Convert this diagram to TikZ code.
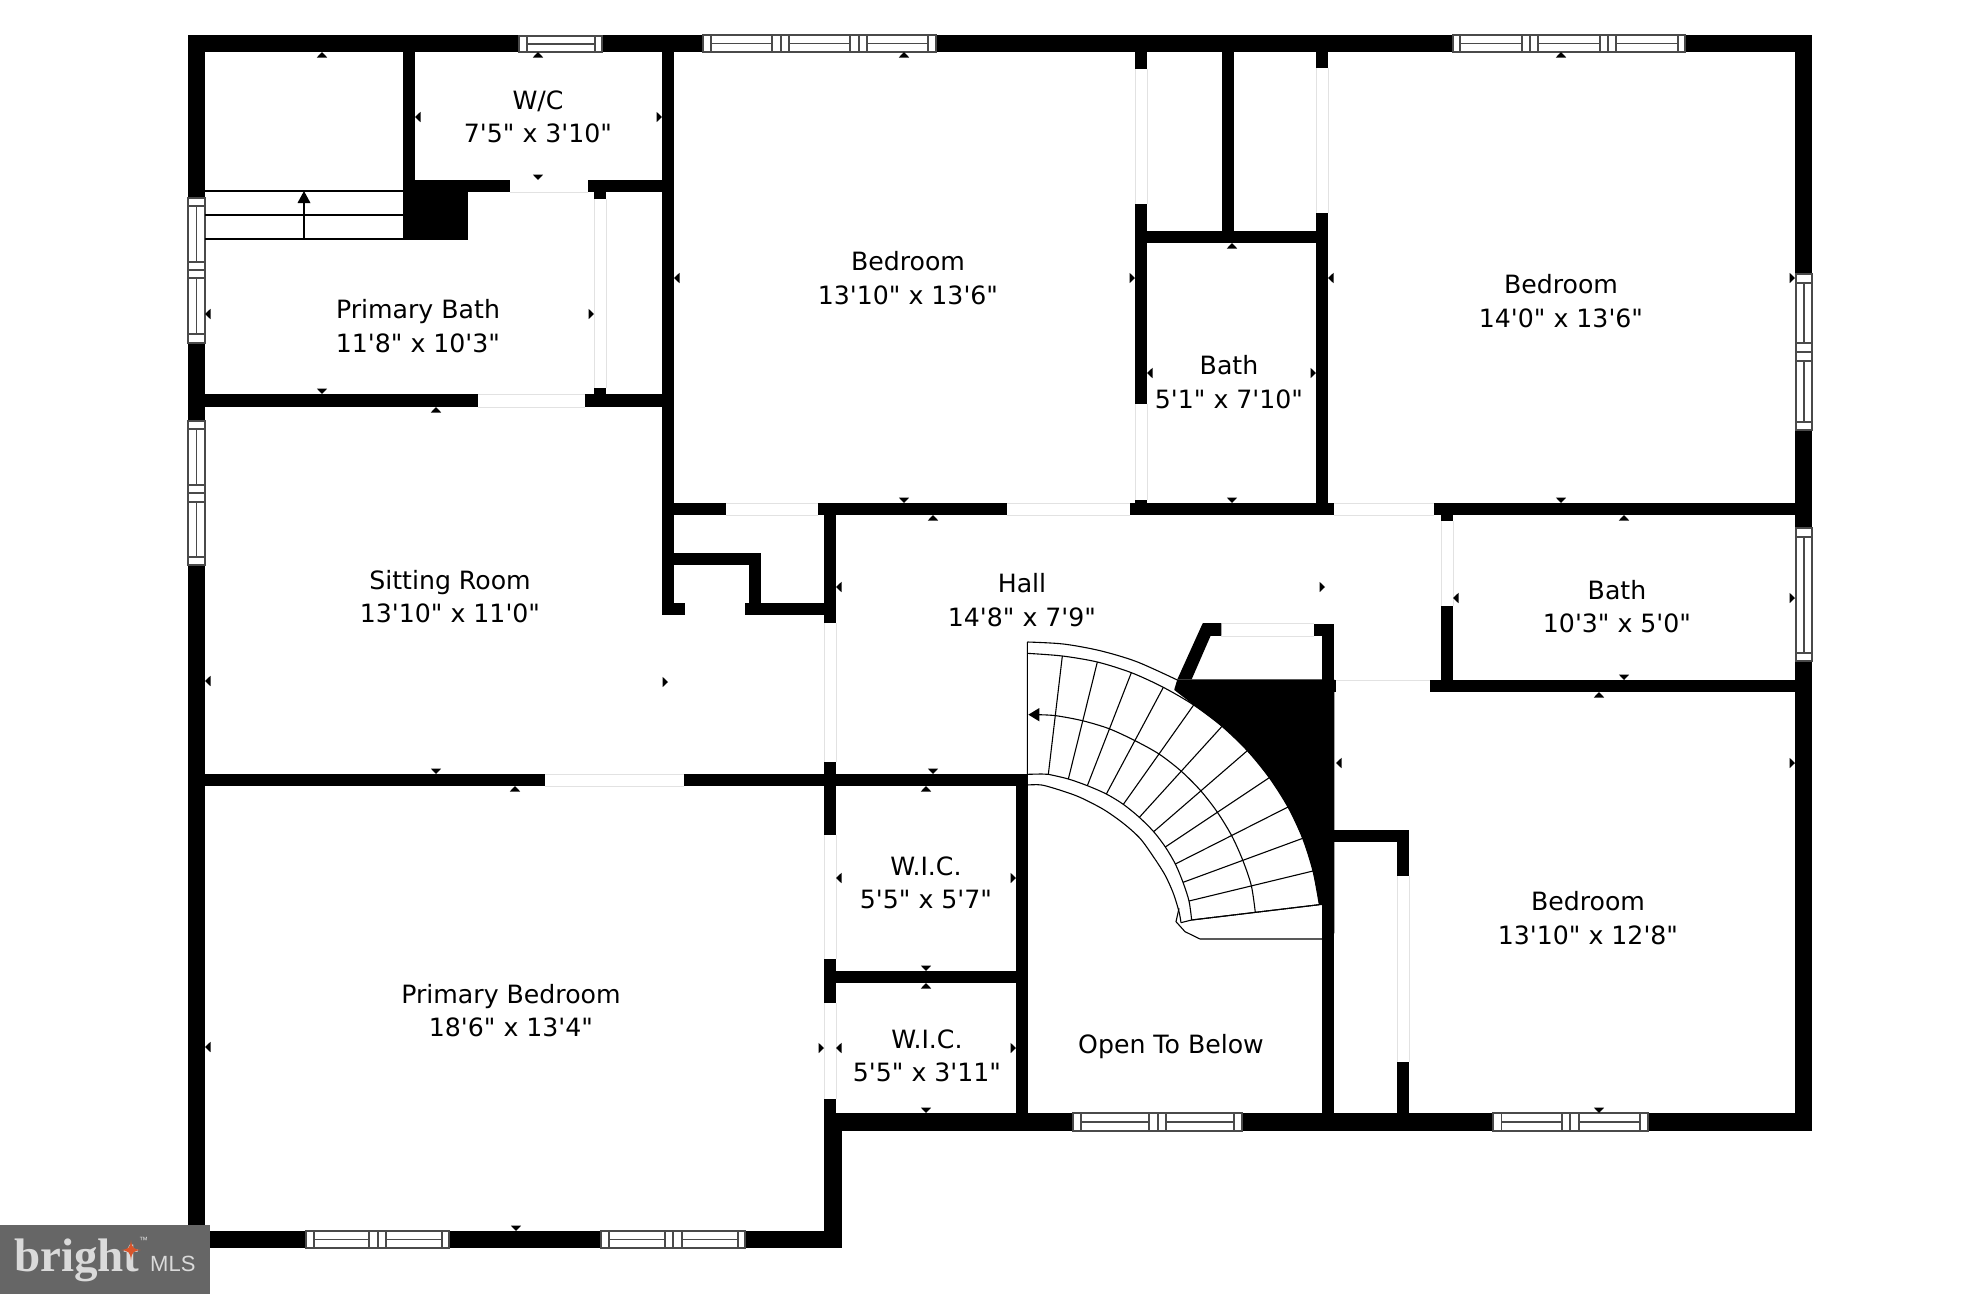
\documentclass[tikz,border=0pt]{standalone}
\usepackage{fontspec}
\newfontfamily\planfont{DejaVu Sans}
\newfontfamily\logoserif{Liberation Serif}
\newfontfamily\logosans{Liberation Sans}
\definecolor{doorgray}{HTML}{E2E2E2}
\definecolor{winink}{HTML}{4A4A4A}
\definecolor{logobg}{HTML}{666666}
\definecolor{logotext}{HTML}{DADADA}
\definecolor{logostar}{HTML}{D9552B}
\tikzset{
  roomlabel/.style={inner sep=0pt,align=center,text=black,font=\planfont\fontsize{25.2}{33.3}\selectfont},
  wallfill/.style={fill=black},
  doorline/.style={draw=doorgray,line width=1pt},
  winframe/.style={draw=winink,line width=1.1pt,fill=white},
  winmid/.style={draw=winink,line width=1.1pt},
  stairline/.style={draw=black,line width=1.1pt},
}
\newcommand\wallR[4]{\fill[wallfill] (#1,#2) rectangle (#3,#4);}
\newcommand\doorH[3]{\draw[doorline] (#1,#3) -- (#2,#3);}
\newcommand\doorV[3]{\draw[doorline] (#3,#1) -- (#3,#2);}
\newcommand\tickU[2]{\fill (#1,#2) -- ++(-5.2,5.5) -- ++(10.4,0) -- cycle;}
\newcommand\tickD[2]{\fill (#1,#2) -- ++(-5.2,-5.5) -- ++(10.4,0) -- cycle;}
\newcommand\tickL[2]{\fill (#1,#2) -- ++(5.5,-5.2) -- ++(0,10.4) -- cycle;}
\newcommand\tickR[2]{\fill (#1,#2) -- ++(-5.5,-5.2) -- ++(0,10.4) -- cycle;}
% horizontal window: y1 y2 x1 x2 panels
\newcommand\hwin[5]{%
  \draw[winframe] (#3,#1) rectangle (#4,#2);
  \foreach \a/\b in {#5} {
    \draw[winmid] (\a,#1) -- (\a,#2) (\b,#1) -- (\b,#2);
    \draw[winmid] (\a,{(#1+#2)/2}) -- (\b,{(#1+#2)/2});
  }}
\newcommand\hsep[3]{\draw[winmid] (#3,#1) -- (#3,#2);}
% vertical window: x1 x2 y1 y2 panels
\newcommand\vwin[5]{%
  \draw[winframe] (#1,#3) rectangle (#2,#4);
  \foreach \a/\b in {#5} {
    \draw[winmid] (#1,\a) -- (#2,\a) (#1,\b) -- (#2,\b);
    \draw[winmid] ({(#1+#2)/2},\a) -- ({(#1+#2)/2},\b);
  }}
\newcommand\vsep[3]{\draw[winmid] (#1,#3) -- (#2,#3);}
\begin{document}
\begin{tikzpicture}[x=1pt,y=-1pt]
\useasboundingbox (0,0) rectangle (1982,1294);
\fill[white] (0,0) rectangle (1982,1294);

% --- door openings ---
\doorH{510}{588}{192}
\doorV{199}{388}{594} \doorV{199}{388}{606}
\doorH{478}{585}{394} \doorH{478}{585}{407}
\doorH{726}{818}{503} \doorH{726}{818}{515}
\doorH{1007}{1130}{503} \doorH{1007}{1130}{515}
\doorH{1334}{1434}{503} \doorH{1334}{1434}{515}
\doorV{69}{204}{1135} \doorV{69}{204}{1147}
\doorV{404}{500}{1135} \doorV{404}{500}{1147}
\doorV{68}{213}{1316} \doorV{68}{213}{1328}
\doorH{545}{684}{774} \doorH{545}{684}{786}
\doorV{623}{762}{824} \doorV{623}{762}{836}
\doorV{835}{959}{824} \doorV{835}{959}{836}
\doorV{1003}{1099}{824} \doorV{1003}{1099}{836}
\doorH{1221}{1314}{623} \doorH{1221}{1314}{636}
\doorV{521}{606}{1441} \doorV{521}{606}{1453}
\doorH{1335}{1430}{680}
\doorV{876}{1062}{1397} \doorV{876}{1062}{1409}

% --- walls ---
\wallR{188}{35}{1812}{52}
\wallR{188}{35}{205}{1248}
\wallR{1795}{35}{1812}{1131}
\wallR{188}{1231}{842}{1248}
\wallR{824}{1113}{842}{1248}
\wallR{824}{1113}{1812}{1131}
\wallR{662}{35}{674}{615}
\wallR{403}{52}{415}{180}
\wallR{403}{180}{510}{192}
\wallR{403}{180}{468}{240}
\wallR{588}{180}{662}{192}
\wallR{594}{192}{606}{199}
\wallR{594}{388}{606}{394}
\wallR{205}{394}{478}{407}
\wallR{585}{394}{662}{407}
\wallR{674}{503}{726}{515}
\wallR{818}{503}{1007}{515}
\wallR{1130}{503}{1334}{515}
\wallR{1434}{503}{1795}{515}
\wallR{662}{603}{685}{615}
\wallR{674}{553}{761}{565}
\wallR{749}{553}{761}{615}
\wallR{745}{603}{836}{615}
\wallR{824}{503}{836}{623}
\wallR{205}{774}{545}{786}
\wallR{684}{774}{1028}{786}
\wallR{824}{762}{836}{835}
\wallR{824}{959}{836}{1003}
\wallR{836}{971}{1016}{983}
\wallR{824}{1099}{836}{1113}
\wallR{1016}{786}{1028}{1113}
\wallR{1135}{52}{1147}{69}
\wallR{1135}{204}{1147}{404}
\wallR{1135}{500}{1147}{503}
\wallR{1316}{52}{1328}{68}
\wallR{1316}{213}{1328}{503}
\wallR{1222}{52}{1234}{231}
\wallR{1135}{231}{1328}{243}
\wallR{1441}{515}{1453}{521}
\wallR{1441}{606}{1453}{680}
\wallR{1430}{680}{1795}{692}
\wallR{1203}{623}{1221}{636}
\wallR{1314}{624}{1334}{636}
\wallR{1322}{624}{1334}{1113}
\wallR{1334}{680}{1336}{692}
\wallR{1334}{830}{1409}{842}
\wallR{1397}{830}{1409}{876}
\wallR{1397}{1062}{1409}{1113}

% --- windows ---
\hwin{36}{52}{519}{602}{527/595}
\hwin{35}{52}{703}{936}{711/772,789/850,867/928}
\hsep{35}{52}{781} \hsep{35}{52}{859}
\hwin{35}{52}{1453}{1685}{1460/1522,1538/1600,1616/1678}
\hsep{35}{52}{1530} \hsep{35}{52}{1608}
\vwin{188}{205}{198}{343}{206/262,278/334}
\vsep{188}{205}{270}
\vwin{188}{205}{421}{565}{429/485,502/557}
\vsep{188}{205}{493}
\vwin{1796}{1812}{274}{430}{283/343,361/422}
\vsep{1796}{1812}{352}
\vwin{1796}{1812}{528}{661}{537/653}
\hwin{1231}{1248}{306}{449}{314/369,386/442}
\hsep{1231}{1248}{378}
\hwin{1231}{1248}{601}{745}{609/665,682/738}
\hsep{1231}{1248}{673}
\hwin{1113}{1131}{1073}{1242}{1081/1149,1166/1234}
\hsep{1113}{1131}{1158}
\hwin{1113}{1131}{1493}{1648}{1501.5/1562,1579/1640}
\hsep{1113}{1131}{1570}

% --- straight stair (primary bath) ---
\draw[stairline] (205,191) -- (403,191) (205,215) -- (403,215) (205,239) -- (403,239);
\draw[stairline] (304,239) -- (304,200);
\fill (304,191) -- (297.5,203) -- (310.5,203) -- cycle;

% --- curved stair ---
\begin{scope}[shift={(980,600)},x=0.33333pt,y=-0.33333pt]
  \fill (592,238) -- (635,238) -- (1063,238) -- (1063,1000) -- (1028,1000) -- (1028,914) -- (1018,914)
    -- plot[smooth] coordinates {(1018,914) (999,813) (968,715) (924,621) (868,533) (802,452) (726,379) (641,315) (583,270)}
    -- (583,268) -- cycle;
  \fill (668,70) -- (724,70) -- (724,107) -- (692,107) -- (635,238) -- (592,238) -- cycle;
  \draw[stairline] (142,555) -- (142,126)
     plot[smooth] coordinates {(142,126) (250,132) (360,152) (470,185) (592,240)};
  \draw[stairline] plot[smooth] coordinates {(142,160) (247,168) (352,186) (454,218) (550,262) (641,315) (726,379) (802,452) (868,533) (924,621) (968,715) (999,813) (1018,914)};
  \draw[stairline] plot[smooth] coordinates {(142,523) (185,522) (205,523) (265,537) (322,557) (379,582) (430,613) (478,652) (521,695) (556,741) (586,792) (609,847) (627,903) (635,960)};
  \draw[stairline] plot[smooth] coordinates {(142,555) (185,555) (245,572) (300,592) (370,628) (430,670) (480,715) (520,770) (555,825) (580,880) (597,935) (603,968)};
  \draw[stairline] (603,968) -- (635,960) -- (1018,914) -- (1028,914);
  \draw[stairline] (597,925) -- (588,965) -- (615,995) -- (660,1017) -- (1028,1017);
  \foreach \a/\b/\c/\d in {205/523/247/168,265/537/352/186,322/557/454/218,379/582/550/262,430/613/641/315,478/652/726/379,521/695/802/452,556/741/868/533,586/792/924/621,609/847/968/715,627/903/999/813,635/960/1018/914}
    \draw[stairline] (\a,\b) -- (\c,\d);
  \draw[stairline] plot[smooth] coordinates {(170,344) (227,347) (307,362) (387,386) (465,422) (537,462) (603,513) (661,571) (711,635) (755,707) (788,780) (814,857) (826,938)};
  \fill (145,344) -- (178,324) -- (178,364) -- cycle;
\end{scope}

% --- measurement ticks ---
\tickU{322}{52} \tickU{538}{52} \tickL{415}{117} \tickR{662}{117} \tickD{538}{180}
\tickL{205}{314} \tickR{594}{314} \tickD{322}{394}
\tickU{904}{52} \tickL{674}{278} \tickR{1135}{278} \tickD{904}{503}
\tickU{1232}{243} \tickL{1147}{373} \tickR{1316}{373} \tickD{1232}{503}
\tickU{1561}{52} \tickL{1328}{278} \tickR{1795}{278} \tickD{1561}{503}
\tickU{436}{407} \tickL{205}{681} \tickR{668}{682} \tickD{436}{774}
\tickU{933}{515} \tickL{836}{587} \tickR{1325}{587} \tickD{933}{774}
\tickU{1624}{515} \tickL{1453}{598} \tickR{1795}{598} \tickD{1624}{680}
\tickU{1599}{692} \tickL{1336}{763} \tickR{1795}{763} \tickD{1599}{1113}
\tickU{515}{786} \tickL{205}{1047} \tickR{824}{1048} \tickD{516}{1231}
\tickU{926}{786} \tickL{836}{878} \tickR{1016}{878} \tickD{926}{971}
\tickU{926}{983} \tickL{836}{1048} \tickR{1016}{1048} \tickD{926}{1113}

% --- room labels ---
\node[roomlabel] (wc) at (538,117) {W/C\\7'5" x 3'10"};
\node[roomlabel] (pbath) at (418,326) {Primary Bath\\11'8" x 10'3"};
\node[roomlabel] (bed1) at (908,278) {Bedroom\\13'10" x 13'6"};
\node[roomlabel] (bath1) at (1229,382) {Bath\\5'1" x 7'10"};
\node[roomlabel] (bed2) at (1561,301) {Bedroom\\14'0" x 13'6"};
\node[roomlabel] (sit) at (450,596.5) {Sitting Room\\13'10" x 11'0"};
\node[roomlabel] (hall) at (1022,600) {Hall\\14'8" x 7'9"};
\node[roomlabel] (bath2) at (1617,606.5) {Bath\\10'3" x 5'0"};
\node[roomlabel] (wic1) at (926,882.5) {W.I.C.\\5'5" x 5'7"};
\node[roomlabel] (wic2) at (927,1055.5) {W.I.C.\\5'5" x 3'11"};
\node[roomlabel] (open) at (1171,1046.5) {Open To Below};
\node[roomlabel] (bed3) at (1588,918) {Bedroom\\13'10" x 12'8"};
\node[roomlabel] (pbed) at (511,1010.5) {Primary Bedroom\\18'6" x 13'4"};

% --- logo ---
\fill[logobg] (0,1225) rectangle (210,1294);
\node[anchor=base west,inner sep=0pt,text=logotext,font=\logoserif\bfseries\fontsize{47}{47}\selectfont] (brand) at (14,1271) {bright};
\fill[logostar] (131,1240) .. controls (132,1248) and (133,1249) .. (141,1250) .. controls (133,1251) and (132,1252) .. (131,1260) .. controls (130,1252) and (129,1251) .. (121,1250) .. controls (129,1249) and (130,1248) .. (131,1240) -- cycle;
\node[anchor=base west,inner sep=0pt,text=logotext,font=\logosans\fontsize{22}{22}\selectfont] (mls) at (150,1271) {MLS};
\node[anchor=base west,inner sep=0pt,text=logotext,font=\logosans\fontsize{9}{9}\selectfont] (tm) at (139,1243) {™};
\end{tikzpicture}
\end{document}
